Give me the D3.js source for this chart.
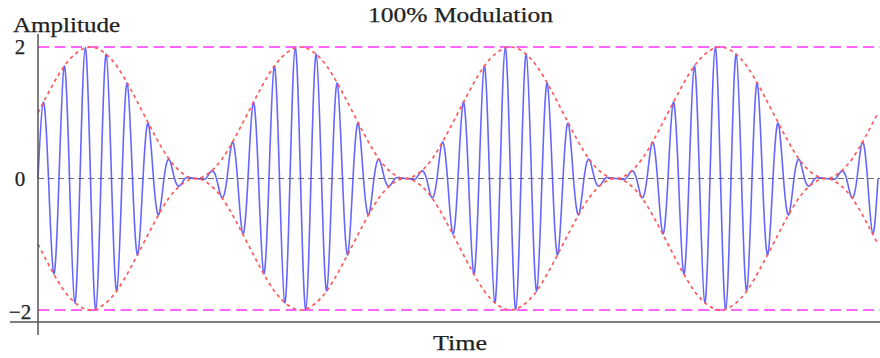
<!DOCTYPE html>
<html>
<head>
<meta charset="utf-8">
<script src="https://cdn.jsdelivr.net/npm/d3@7"></script>
<style>
  html, body { margin: 0; padding: 0; background: #fff; }
  svg { display: block; }
  text { font-family: "Liberation Serif", "Times New Roman", serif; fill: #222; stroke: #222; stroke-width: 0.25px; }
</style>
</head>
<body>
<svg id="chart" width="880" height="358"></svg>
<script>
// ---- data ----
const chartTitle = "100% Modulation";
const xAxisLabel = "Time";
const yAxisLabel = "Amplitude";

// signed carrier extrema, one per half carrier cycle (zero crossings in between)
const carrierPeaks = [
  1.16, -1.45, 1.71, -1.89, 1.99, -1.99, 1.89, -1.71, 1.45, -1.16,
  0.84, -0.55, 0.29, -0.11, 0.01, -0.01, 0.11, -0.29, 0.55, -0.84,
  1.16, -1.45, 1.71, -1.89, 1.99, -1.99, 1.89, -1.71, 1.45, -1.16,
  0.84, -0.55, 0.29, -0.11, 0.01, -0.01, 0.11, -0.29, 0.55, -0.84,
  1.16, -1.45, 1.71, -1.89, 1.99, -1.99, 1.89, -1.71, 1.45, -1.16,
  0.84, -0.55, 0.29, -0.11, 0.01, -0.01, 0.11, -0.29, 0.55, -0.84,
  1.16, -1.45, 1.71, -1.89, 1.99, -1.99, 1.89, -1.71, 1.45, -1.16,
  0.84, -0.55, 0.29, -0.11, 0.01, -0.01, 0.11, -0.29, 0.55, -0.84
];

// upper envelope sampled evenly (16 samples per modulation cycle)
const envelopeUpper = [
  1.00, 1.38, 1.71, 1.92, 2.00, 1.92, 1.71, 1.38, 1.00, 0.62, 0.29, 0.08, 0.00, 0.08, 0.29, 0.62,
  1.00, 1.38, 1.71, 1.92, 2.00, 1.92, 1.71, 1.38, 1.00, 0.62, 0.29, 0.08, 0.00, 0.08, 0.29, 0.62,
  1.00, 1.38, 1.71, 1.92, 2.00, 1.92, 1.71, 1.38, 1.00, 0.62, 0.29, 0.08, 0.00, 0.08, 0.29, 0.62,
  1.00, 1.38, 1.71, 1.92, 2.00, 1.92, 1.71, 1.38, 1.00, 0.62, 0.29, 0.08, 0.00, 0.08, 0.29, 0.62,
  1.00
];

const guideLevels = [2, -2];
const yTickValues = [2, 0, -2];
const yTickLabels = ["2", "0", "\u22122"];

// ---- build point tables from the data ----
const carrierPoints = [{ t: 0, v: 0 }];
carrierPeaks.forEach((p, i) => {
  carrierPoints.push({ t: 2 * i + 1, v: p });
  carrierPoints.push({ t: 2 * i + 2, v: 0 });
});
const tMax = carrierPoints[carrierPoints.length - 1].t;
const envStep = tMax / (envelopeUpper.length - 1);
const envPoints = envelopeUpper.map((v, i) => ({ t: i * envStep, v }));

// ---- layout ----
const svg = d3.select("#chart");
const axisX = 38;
const axisY = 322;
const x = d3.scaleLinear().domain([0, tMax]).range([38, 878]);
const y = d3.scaleLinear().domain([-2, 2]).range([310, 47]);

// guide lines at +/-2
svg.append("g").selectAll("line").data(guideLevels).join("line")
  .attr("x1", axisX).attr("x2", 880)
  .attr("y1", d => y(d)).attr("y2", d => y(d))
  .attr("stroke", "#ff66ff").attr("stroke-width", 1.9)
  .attr("stroke-dasharray", "11,5.5");

// zero line
svg.append("line")
  .attr("x1", axisX).attr("x2", 880)
  .attr("y1", y(0)).attr("y2", y(0))
  .attr("stroke", "#707070").attr("stroke-width", 1.2)
  .attr("stroke-dasharray", "6,4");

// carrier
const line = d3.line().x(d => x(d.t)).y(d => y(d.v)).curve(d3.curveNatural);
svg.append("path").datum(carrierPoints)
  .attr("d", line)
  .attr("fill", "none")
  .attr("stroke", "#4040ff").attr("stroke-width", 1.6)
  .attr("stroke-opacity", 0.8);

// envelopes
const upper = d3.line().x(d => x(d.t)).y(d => y(d.v)).curve(d3.curveNatural);
const lower = d3.line().x(d => x(d.t)).y(d => y(-d.v)).curve(d3.curveNatural);
[upper, lower].forEach(gen => {
  svg.append("path").datum(envPoints)
    .attr("d", gen)
    .attr("fill", "none")
    .attr("stroke", "#ff5a5a").attr("stroke-width", 1.7)
    .attr("stroke-dasharray", "3.5,3.5");
});

// axes
svg.append("line")
  .attr("x1", 10).attr("x2", 880).attr("y1", axisY).attr("y2", axisY)
  .attr("stroke", "#555").attr("stroke-width", 1.5);
svg.append("line")
  .attr("x1", axisX).attr("x2", axisX).attr("y1", 34).attr("y2", 335)
  .attr("stroke", "#555").attr("stroke-width", 1.5);

// tick labels
svg.append("g").selectAll("text").data(yTickValues).join("text")
  .attr("x", 20)
  .attr("y", d => y(d) + (d < 0 ? 8.5 : 7))
  .attr("text-anchor", "middle")
  .attr("font-size", 21)
  .text((d, i) => yTickLabels[i]);

// titles
svg.append("text")
  .attr("x", 13).attr("y", 31.5)
  .attr("font-size", 21)
  .attr("textLength", 107).attr("lengthAdjust", "spacingAndGlyphs")
  .text(yAxisLabel);
svg.append("text")
  .attr("x", 368).attr("y", 22)
  .attr("font-size", 21.5)
  .attr("textLength", 185).attr("lengthAdjust", "spacingAndGlyphs")
  .text(chartTitle);
svg.append("text")
  .attr("x", 433).attr("y", 350)
  .attr("font-size", 21.5)
  .attr("textLength", 54).attr("lengthAdjust", "spacingAndGlyphs")
  .text(xAxisLabel);
</script>
</body>
</html>
